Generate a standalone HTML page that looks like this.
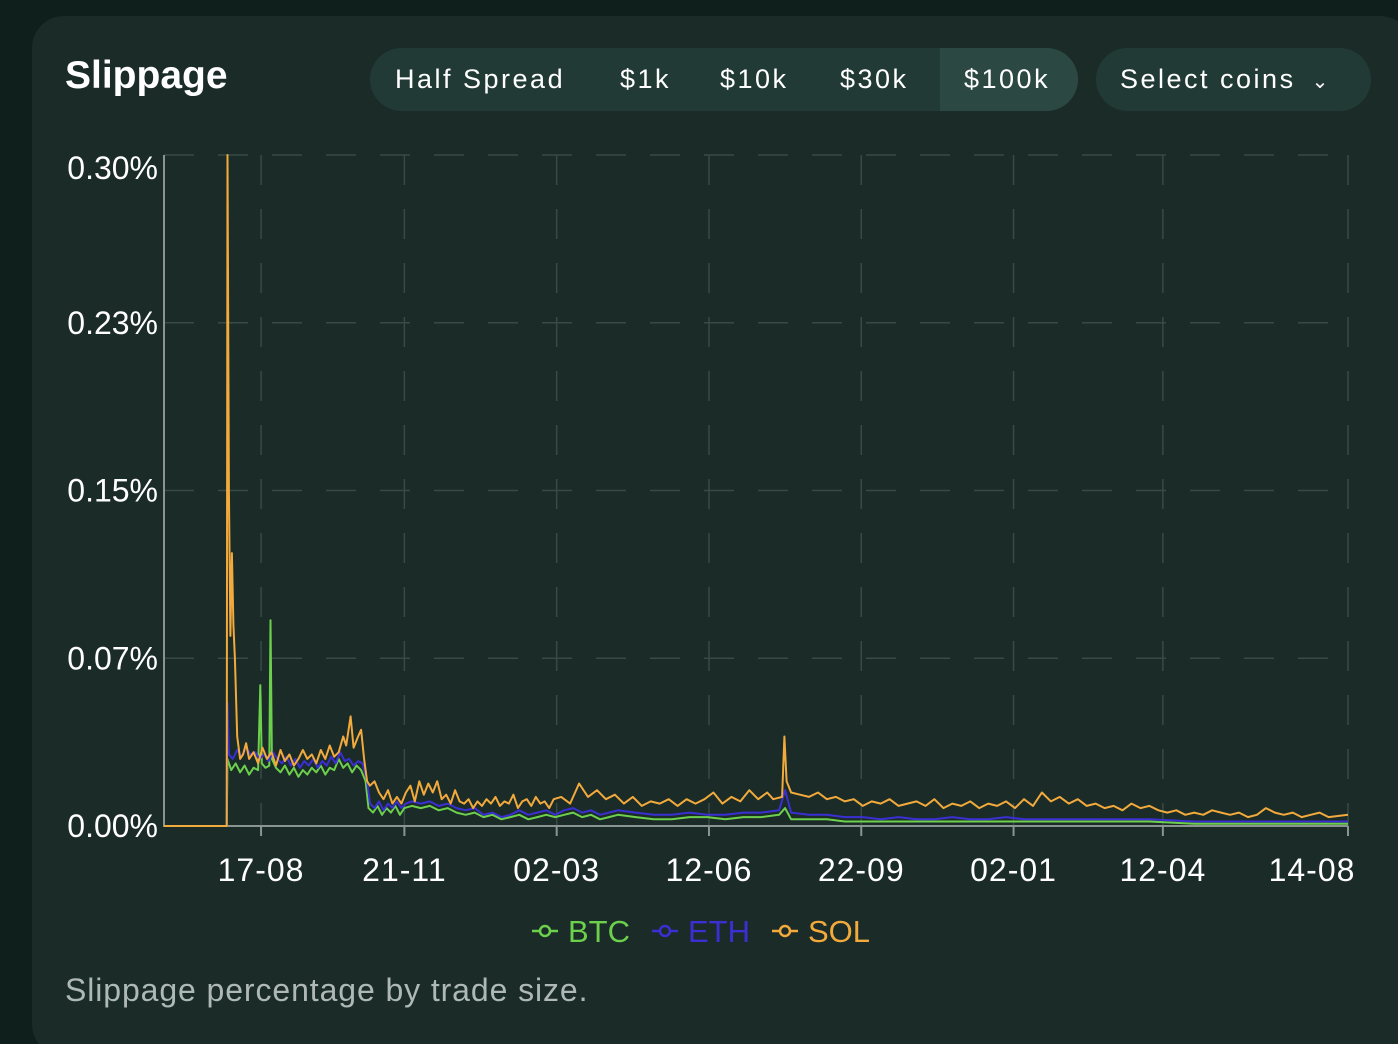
<!DOCTYPE html>
<html><head><meta charset="utf-8"><style>
html,body{margin:0;width:1398px;height:1044px;overflow:hidden}
body{background:#0f1f1c;font-family:"Liberation Sans",sans-serif;position:relative}
#card{position:absolute;left:32px;top:16px;width:1380px;height:1040px;background:#1a2b28;border-radius:32px}
.t{position:absolute;color:#fff}
</style></head><body>
<div id="card"></div>
<div class="t" style="left:65px;top:54px;font-size:39px;font-weight:bold">Slippage</div>
<div style="position:absolute;left:370px;top:48px;width:708px;height:63px;background:#223a35;border-radius:32px;overflow:hidden;font-size:27px;letter-spacing:2.5px;color:#fff">
<span style="position:absolute;left:25px;top:16px">Half Spread</span>
<span style="position:absolute;left:250px;top:16px">$1k</span>
<span style="position:absolute;left:350px;top:16px">$10k</span>
<span style="position:absolute;left:470px;top:16px">$30k</span>
<span style="position:absolute;left:570px;top:0;width:138px;height:63px;background:#2c4842;line-height:63px;text-indent:24px">$100k</span>
</div>
<div style="position:absolute;left:1096px;top:48px;width:275px;height:63px;background:#223a35;border-radius:32px;font-size:27px;letter-spacing:2.5px;color:#fff;line-height:63px;text-indent:24px">Select coins <span style="font-size:20px;margin-left:6px">&#8964;</span></div>
<svg id="chart" width="1398" height="1044" style="position:absolute;left:0;top:0"></svg>
<div class="t" style="left:65px;top:972px;font-size:32px;letter-spacing:0.9px;color:#aeb8b5">Slippage percentage by trade size.</div>
<script>
const startDate=new Date(Date.UTC(2023,5,13));
const tickLabels=["17-08","21-11","02-03","12-06","22-09","02-01","12-04","14-08"];
const tickDates=["2023-08-17","2023-11-21","2024-03-02","2024-06-12","2024-09-22","2025-01-02","2025-04-12","2025-08-14"];
const yTicks=[0,0.075,0.15,0.225,0.30];
const yTickLabels=["0.00%","0.07%","0.15%","0.23%","0.30%"];
const seriesNames=["BTC","ETH","SOL"];
const btc=[[0,0],[42,0],[42.5,0.03],[45,0.025],[48,0.028],[51,0.024],[54,0.027],[57,0.023],[60,0.026],[63,0.025],[64.5,0.063],[65.5,0.028],[68,0.026],[70.5,0.027],[71.3,0.092],[72.3,0.03],[75,0.026],[78,0.024],[81,0.027],[84,0.023],[87,0.026],[90,0.022],[93,0.025],[96,0.023],[99,0.026],[102,0.024],[105,0.027],[108,0.023],[111,0.026],[114,0.025],[117,0.03],[120,0.026],[123,0.028],[126,0.024],[129,0.027],[132,0.025],[135,0.02],[137,0.008],[140,0.006],[143,0.009],[146,0.005],[149,0.008],[152,0.006],[155,0.009],[158,0.005],[161,0.008],[166,0.009],[172,0.008],[178,0.009],[184,0.007],[190,0.008],[196,0.006],[202,0.005],[208,0.006],[214,0.004],[220,0.005],[226,0.003],[232,0.004],[238,0.005],[244,0.003],[250,0.004],[256,0.005],[262,0.004],[268,0.005],[274,0.006],[280,0.004],[286,0.005],[292,0.003],[298,0.004],[304,0.005],[316,0.004],[328,0.003],[340,0.003],[352,0.004],[364,0.004],[376,0.003],[388,0.004],[400,0.004],[412,0.005],[416,0.008],[420,0.003],[432,0.003],[444,0.003],[456,0.002],[468,0.002],[480,0.002],[492,0.002],[504,0.002],[516,0.002],[528,0.002],[540,0.002],[552,0.002],[564,0.002],[576,0.002],[600,0.002],[630,0.002],[660,0.002],[690,0.001],[720,0.001],[750,0.001],[793,0.001]];
const eth=[[0,0],[42,0],[42.5,0.055],[43.5,0.032],[46,0.03],[49,0.034],[52,0.031],[55,0.035],[58,0.032],[61,0.033],[64,0.03],[67,0.032],[70,0.029],[73,0.033],[76,0.03],[79,0.028],[82,0.031],[85,0.027],[88,0.03],[91,0.026],[94,0.029],[97,0.027],[100,0.03],[103,0.026],[106,0.029],[109,0.027],[112,0.031],[115,0.028],[118,0.033],[121,0.029],[124,0.03],[127,0.027],[130,0.029],[133,0.028],[136,0.02],[138,0.01],[141,0.008],[144,0.011],[147,0.007],[150,0.01],[153,0.008],[156,0.011],[159,0.008],[162,0.01],[166,0.011],[172,0.01],[178,0.011],[184,0.009],[190,0.01],[196,0.008],[202,0.007],[208,0.008],[214,0.005],[220,0.006],[226,0.004],[232,0.005],[238,0.007],[244,0.005],[250,0.006],[256,0.007],[262,0.005],[268,0.007],[274,0.008],[280,0.006],[286,0.007],[292,0.005],[298,0.006],[304,0.007],[316,0.006],[328,0.005],[340,0.005],[352,0.006],[364,0.005],[376,0.005],[388,0.006],[400,0.006],[412,0.007],[416,0.016],[420,0.006],[432,0.005],[444,0.005],[456,0.004],[468,0.004],[480,0.003],[492,0.004],[504,0.003],[516,0.003],[528,0.004],[540,0.003],[552,0.003],[564,0.004],[576,0.003],[600,0.003],[630,0.003],[660,0.003],[690,0.002],[720,0.002],[750,0.002],[793,0.002]];
const sol=[[0,0],[42,0],[42.5,0.30],[43.5,0.15],[44.5,0.085],[45.5,0.122],[46.5,0.09],[47.5,0.075],[49,0.04],[51,0.03],[53,0.032],[55,0.037],[57,0.03],[60,0.033],[63,0.028],[66,0.035],[69,0.03],[72,0.033],[75,0.027],[78,0.034],[81,0.029],[84,0.032],[87,0.027],[90,0.03],[93,0.034],[96,0.03],[99,0.032],[102,0.028],[105,0.034],[108,0.03],[111,0.036],[114,0.031],[117,0.033],[120,0.04],[122,0.036],[125,0.049],[127,0.035],[130,0.04],[132,0.043],[134,0.03],[136,0.02],[138,0.018],[141,0.02],[144,0.015],[147,0.012],[150,0.016],[153,0.01],[156,0.013],[159,0.01],[162,0.015],[165,0.018],[168,0.011],[171,0.02],[174,0.014],[177,0.019],[180,0.015],[183,0.02],[186,0.012],[189,0.014],[192,0.01],[195,0.016],[198,0.011],[201,0.01],[204,0.012],[207,0.008],[210,0.011],[213,0.009],[216,0.012],[219,0.01],[222,0.013],[225,0.009],[228,0.011],[231,0.01],[234,0.014],[237,0.008],[240,0.011],[243,0.012],[246,0.009],[249,0.013],[252,0.01],[255,0.011],[258,0.008],[261,0.012],[266,0.013],[272,0.01],[278,0.019],[284,0.013],[290,0.016],[296,0.012],[302,0.014],[308,0.01],[314,0.013],[320,0.009],[326,0.011],[332,0.01],[338,0.012],[344,0.009],[350,0.012],[356,0.01],[362,0.012],[368,0.015],[374,0.01],[380,0.013],[386,0.011],[392,0.016],[398,0.012],[404,0.015],[408,0.012],[414,0.013],[415.5,0.04],[417,0.02],[420,0.015],[426,0.014],[432,0.013],[438,0.015],[444,0.012],[450,0.013],[456,0.011],[462,0.012],[468,0.009],[474,0.011],[480,0.01],[486,0.012],[492,0.009],[498,0.01],[504,0.011],[510,0.009],[516,0.012],[522,0.008],[528,0.01],[534,0.009],[540,0.011],[546,0.008],[552,0.01],[558,0.009],[564,0.011],[570,0.008],[576,0.012],[582,0.009],[588,0.015],[594,0.011],[600,0.013],[606,0.01],[612,0.012],[618,0.009],[624,0.01],[630,0.008],[636,0.009],[642,0.007],[648,0.01],[654,0.008],[660,0.009],[666,0.007],[672,0.006],[678,0.007],[684,0.005],[690,0.006],[696,0.005],[702,0.007],[708,0.006],[714,0.005],[720,0.006],[726,0.004],[732,0.005],[738,0.008],[744,0.006],[750,0.005],[756,0.006],[762,0.004],[768,0.005],[774,0.006],[780,0.004],[793,0.005]];
const colors=["#6dd04c","#3b2fd4","#f2aa3c"];
const X0=164,X1=1348,Y0=826,Y1=155;
const dayOf=s=>(new Date(s+"T00:00:00Z")-startDate)/86400000;
const DMAX=dayOf(tickDates[tickDates.length-1]);
const xs=d=>X0+d/DMAX*(X1-X0);
const ys=v=>Y0-v/0.30*(Y0-Y1);
const svg=document.getElementById('chart');
const NS="http://www.w3.org/2000/svg";
function mk(t,a,p){const e=document.createElementNS(NS,t);for(const k in a)e.setAttribute(k,a[k]);(p||svg).appendChild(e);return e;}
yTicks.forEach((v,i)=>{
 if(v>0){const g=mk('line',{x1:X0,x2:X1,y1:ys(v),y2:ys(v),stroke:'#384a46','stroke-width':1.5,'stroke-dasharray':'30 24'});
 
 }
 const t=mk('text',{x:158,y:ys(v)+(v===0.30?24:11),'text-anchor':'end',fill:'#fff','font-size':32});
 
 
 t.textContent=yTickLabels[i];
});
tickDates.forEach((s,i)=>{
 const x=xs(dayOf(s));
 const g=mk('line',{x1:x,x2:x,y1:Y1,y2:Y0,stroke:'#384a46','stroke-width':1.5,'stroke-dasharray':'30 24'});
 
 
 const tk=mk('line',{x1:x,x2:x,y1:Y0,y2:Y0+10,stroke:'#8a9592','stroke-width':2});
 
 
 const t=mk('text',{x:i===tickDates.length-1?Math.min(x,1312):x,y:881,'text-anchor':'middle',fill:'#fff','font-size':32,'letter-spacing':1});
 
 
 t.textContent=tickLabels[i];
});
const ax=mk('path',{d:`M${X0} ${Y1}V${Y0}H${X1}`,fill:'none',stroke:'#8a9592','stroke-width':2});


[btc,eth,sol].forEach((s,i)=>{
 const p=mk('path',{d:'M'+s.map(q=>xs(q[0]).toFixed(1)+' '+ys(q[1]).toFixed(1)).join('L'),fill:'none',stroke:colors[i],'stroke-width':2,'stroke-linejoin':'round'});
 
 
});
const lx=[532,652,772];
seriesNames.forEach((n,i)=>{
 const g=mk('g',{});
 
 
 mk('line',{x1:lx[i],x2:lx[i]+26,y1:931,y2:931,stroke:colors[i],'stroke-width':2.5},g);
 mk('circle',{cx:lx[i]+13,cy:931,r:5,fill:'#1a2b28',stroke:colors[i],'stroke-width':2.5},g);
 const t=mk('text',{x:lx[i]+36,y:942,fill:colors[i],'font-size':31},g);
 t.textContent=n;
});
</script>
</body></html>
